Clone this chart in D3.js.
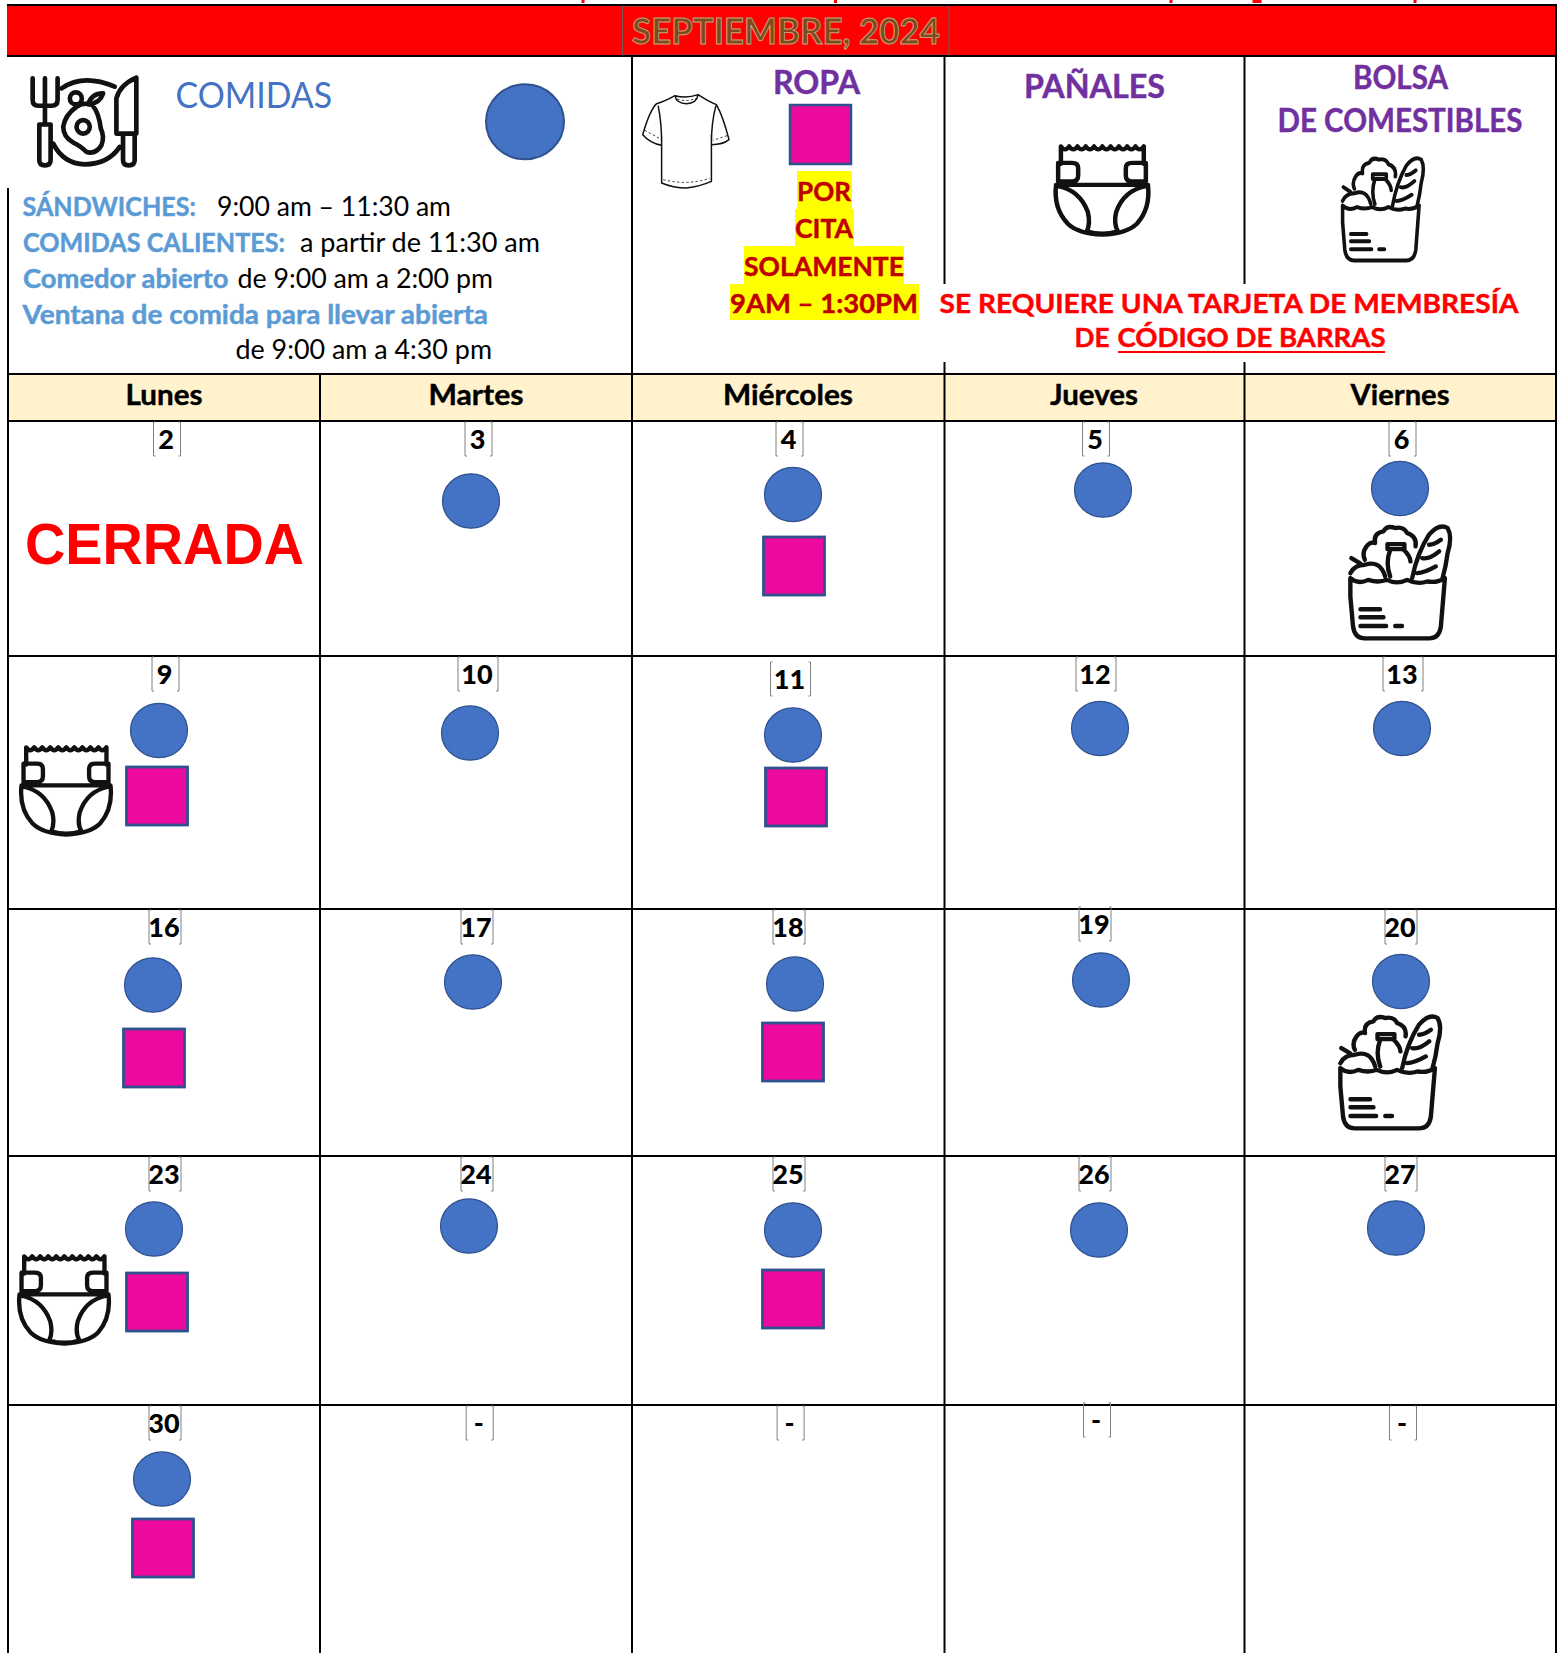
<!DOCTYPE html>
<html><head><meta charset="utf-8">
<style>html,body{margin:0;padding:0;background:#fff}svg{display:block}text{font-family:Lato,"Open Sans",sans-serif}</style>
<script src="https://cdnjs.cloudflare.com/ajax/libs/d3/7.8.5/d3.min.js"></script>
</head><body><div id="chart"></div>
<script>
// ---------- data ----------
const monthTitle = "SEPTIEMBRE, 2024";
const weekdays = ["Lunes","Martes","Miércoles","Jueves","Viernes"];
const dayLabels = ["2","3","4","5","6","9","10","11","12","13","16","17","18","19","20","23","24","25","26","27","30","-","-","-","-"];
const closedDays = ["2"];
const mealDays = ["3","4","5","6","9","10","11","12","13","16","17","18","19","20","23","24","25","26","27","30"];
const clothingDays = ["4","9","11","16","18","23","25","30"];
const diaperDays = ["9","23"];
const groceryDays = ["6","20"];

// ---------- layout ----------
const W = 1557, H = 1653;
const colEdges = [8,320,632,944,1244,1556];
const rowEdges = [421,656,909,1156,1405,1653];
const colX = d3.scaleLinear().domain(d3.range(6)).range(colEdges);
const rowY = d3.scaleLinear().domain(d3.range(6)).range(rowEdges);
const cell = i => ({col:i%5,row:Math.floor(i/5),cx:(colX(i%5)+colX(i%5+1))/2,top:rowY(Math.floor(i/5))});
const cellOf = label => cell(dayLabels.indexOf(label));

// hand-placement of each pasted shape relative to its cell (dx from cell centre, dy from cell top)
const mealNudge = {3:[-5,80],4:[5,73.5],5:[9,69],6:[0,67.5],9:[-5,74.5],10:[-6,77],11:[5,79],12:[6,72.5],13:[2,72.5],16:[-11,76],17:[-3,73],18:[7,75],19:[7,71],20:[1,72.5],23:[-10,73],24:[-7,70],25:[5,74],26:[5,74],27:[-4,72],30:[-2,74]};
const clothingNudge = {4:[6,145],9:[-7,140],11:[8,141],16:[-10,149],18:[5,143],23:[-7,146],25:[5,143],30:[-1,143]};
const diaperNudge = {9:[-98,89],23:[-100,98]};
const groceryNudge = {6:[0,103],20:[-10,105]};
const labelNudge = [[3,1],[2.5,1],[1.5,1],[2,1],[2.5,1],[1.5,1],[2,1],[2.5,6],[2,1],[3,1],[1,1],[1,1],[1,1],[1,-2],[1,1],[1,1],[1,1],[1,1],[1,1],[1,1],[1,1],[3.7,1],[2.6,1],[3,-2],[3,1]];

const BLUE="#4472C4", EDGE="#2F528F", PINK="#EC0B9E", SKY="#5B9BD5", PURPLE="#7030A0", DARKRED="#C00000";

const svg = d3.select("#chart").append("svg").attr("width",W).attr("height",H).attr("viewBox",`0 0 ${W} ${H}`);

// ---------- helpers ----------
function label(t,x,base,len,size,weight,fill,anchor){
  const s = svg.append("text").text(t).attr("x",x).attr("y",base)
    .attr("font-size",size).attr("font-weight",weight||400).attr("fill",fill||"#000")
    .attr("text-anchor",anchor||"start")
    .attr("textLength",len).attr("lengthAdjust","spacingAndGlyphs");
  if(weight===700) s.attr("stroke",fill||"#000").attr("stroke-width",.45);
  return s;
}
const icons = {
 plate:{sw:14,bx:[30,352,33,305],d:"M38 40V105Q38 122 55 122H95Q113 122 113 105V40M75 40V178M58 178H92V285Q92 300 75 300Q58 300 58 285ZM125 70Q190 25 285 65M100 235Q130 295 195 297Q265 297 300 245M350 38V205H290V100Q300 60 350 38ZM310 205V285Q310 300 327 300Q345 300 345 285V205M170 125Q135 150 130 185Q130 215 160 232Q180 240 200 260Q228 268 245 240Q255 215 243 190Q238 145 218 120Q190 110 170 125ZM210 185A20 20 0 1 1 170 185A20 20 0 1 1 210 185ZM186 100A18 18 0 1 1 150 100A18 18 0 1 1 186 100ZM205 118Q215 85 250 85Q240 115 205 118Z"},
 diaper:{sw:13,bx:[60,338,285,565],d:"M80 345V292q12 18 24 0q12 18 24 0q12 18 24 0q12 18 24 0q12 18 24 0q12 18 24 0q12 18 24 0q12 18 24 0q12 18 24 0q12 18 24 0V345M72 342H112Q130 342 130 358V380Q130 398 112 398H72ZM326 342H286Q268 342 268 358V380Q268 398 286 398H326ZM66 408H332M66 408Q58 480 100 525Q130 555 200 558Q270 555 300 525Q340 480 332 408M72 412Q135 425 158 490Q166 525 155 548Q200 562 245 548Q232 525 240 490Q262 425 326 412"},
 bag:{sw:13,bx:[148,450,343,690],d:"M152 505V560L160 650Q165 685 195 685H385Q415 685 420 650L432 505M152 505Q175 525 205 510Q235 520 260 510Q290 525 320 510Q350 525 380 515Q410 520 432 505M152 490Q165 465 195 465Q240 450 255 500M155 445L180 460M195 450Q185 430 200 410Q210 395 225 400Q220 370 250 365Q260 345 285 355Q310 350 320 370Q350 380 345 410M262 403H312V418H262ZM270 420Q255 460 270 500M310 420Q330 440 330 455M335 505Q350 430 385 375Q415 340 440 355Q455 380 440 430Q435 470 425 505M385 405Q400 405 420 390M365 445Q385 450 415 425M350 490Q370 490 405 470M182 598H240M182 622H250M182 648H258M285 648H305"},
 tee:{sw:4.5,bx:[38,298,40,325],d:"M135 48Q170 58 205 45M135 48Q140 72 170 72Q200 72 205 45M135 48Q105 65 80 72Q60 90 38 165Q60 190 95 197M205 45Q235 65 260 75Q280 110 298 180Q280 195 245 195M95 170V310Q130 325 170 325Q210 320 245 305V165M85 80Q95 130 95 190M258 80Q245 130 245 190"},
 teeDash:{sw:2.5,dash:"7 7",bx:[38,298,40,325],d:"M100 300Q170 318 240 296M44 152L92 178M292 168L250 182M142 58Q170 68 198 56"}
};
function icon(name,x0,x1,y0,y1){
  const ic=icons[name],[a,b,c,d]=ic.bx;
  const sx=(x1-x0)/(b-a),sy=(y1-y0)/(d-c);
  return svg.append("path").attr("class","icon-"+name).attr("d",ic.d)
    .attr("transform",`translate(${x0-a*sx},${y0-c*sy}) scale(${sx},${sy})`)
    .attr("fill","none").attr("stroke","#111").attr("stroke-width",ic.sw)
    .attr("stroke-dasharray",ic.dash||null)
    .attr("stroke-linecap",ic.dash?"butt":"round").attr("stroke-linejoin","round");
}

// ---------- banner ----------
svg.append("rect").attr("x",7).attr("y",5).attr("width",1549).attr("height",51).attr("fill","#f00");
[[583,3],[835.5,3],[1171,3],[1257,9],[1415,3]].forEach(([x,w])=>
  svg.append("rect").attr("x",x-w/2).attr("y",0).attr("width",w).attr("height",3).attr("fill","#f00"));
svg.append("rect").attr("x",622.5).attr("y",6).attr("width",326.5).attr("height",49).attr("fill","none").attr("stroke","#3f7f7f").attr("stroke-width",.7);
svg.append("text").text(monthTitle).attr("x",632).attr("y",44).attr("font-size",37).attr("font-weight",700)
  .attr("fill","#7F4A1E").attr("stroke","#C8A27C").attr("stroke-width",1)
  .attr("textLength",308).attr("lengthAdjust","spacingAndGlyphs");

// ---------- header fill ----------
svg.append("rect").attr("x",8).attr("y",374).attr("width",1548).attr("height",47).attr("fill","#FFF2CC");

// ---------- grid ----------
const gridLines = [
 [7,5,1557,5],[7,56,1557,56],[8,374,1556,374],
 ...rowEdges.slice(0,-1).map(y=>[8,y,1556,y]),
 [8,188,8,H],[1556,5,1556,H],[320,374,320,H],[632,56,632,H],
 [944.5,56,944.5,284],[944.5,362,944.5,H],[1244.5,56,1244.5,284],[1244.5,362,1244.5,H]
];
svg.append("g").selectAll("line").data(gridLines).join("line")
  .attr("x1",d=>d[0]).attr("y1",d=>d[1]).attr("x2",d=>d[2]).attr("y2",d=>d[3])
  .attr("stroke","#000").attr("stroke-width",2);

// ---------- legend panel ----------
icon("plate",30,137,76,167);
label("COMIDAS",175.5,108,156.5,36,400,BLUE);
svg.append("ellipse").attr("cx",525).attr("cy",121.7).attr("rx",39).attr("ry",37.5).attr("fill",BLUE).attr("stroke",EDGE).attr("stroke-width",2);
[["SÁNDWICHES:",22.5,215.7,173.5,700,SKY],["9:00 am – 11:30 am",217,215.7,234,400,"#000"],
 ["COMIDAS CALIENTES:",23,251.7,262,700,SKY],["a partir de 11:30 am",300,251.7,240,400,"#000"],
 ["Comedor abierto",23,287.7,205.5,700,SKY],["de 9:00 am a 2:00 pm",237.5,287.7,255.5,400,"#000"],
 ["Ventana de comida para llevar abierta",22.5,324,465.5,700,SKY],["de 9:00 am a 4:30 pm",235.5,359,256.5,400,"#000"]
].forEach(r=>label(r[0],r[1],r[2],r[3],26,r[4],r[5]));

icon("tee",642.7,729,93,188);
icon("teeDash",642.7,729,93,188);
label("ROPA",773,94,87,32,700,PURPLE);
svg.append("rect").attr("x",790).attr("y",105).attr("width",61).attr("height",59).attr("fill",PINK).attr("stroke",EDGE).attr("stroke-width",2.5);
[[797,852,171,209],[795,854,209,246],[744,904,246,284],[730,919,284,320]].forEach(r=>
  svg.append("rect").attr("x",r[0]).attr("y",r[2]).attr("width",r[1]-r[0]).attr("height",r[3]-r[2]).attr("fill","#ff0"));
[["POR",797,200.5,54],["CITA",795,237.5,58],["SOLAMENTE",744,275.5,160],["9AM – 1:30PM",730,313,188]].forEach(r=>
  label(r[0],r[1],r[2],r[3],26,700,DARKRED));

label("PAÑALES",1024,97.5,141,32,700,PURPLE);
icon("diaper",1054,1150,144,237);
label("BOLSA",1353,89,95,32,700,PURPLE);
label("DE COMESTIBLES",1277.5,132,245,32,700,PURPLE);
icon("bag",1341.5,1424,156,262);

label("SE REQUIERE UNA TARJETA DE MEMBRESÍA",939.5,312.7,579,27,700,"#f00");
label("DE",1074.5,347,35,27,700,"#f00");
label("CÓDIGO DE BARRAS",1117.5,347,268,27,700,"#f00");
svg.append("rect").attr("x",1118).attr("y",351).attr("width",267).attr("height",2).attr("fill","#f00");

// ---------- weekday header ----------
const weekdayWidths = [77,95,130,88,99];
svg.append("g").selectAll("text").data(weekdays).join("text")
  .text(d=>d)
  .attr("x",(d,i)=>(colX(i)+colX(i+1))/2).attr("y",405)
  .attr("text-anchor","middle").attr("font-size",28).attr("font-weight",700).attr("fill","#000")
  .attr("stroke","#000").attr("stroke-width",.4)
  .attr("textLength",(d,i)=>weekdayWidths[i]).attr("lengthAdjust","spacingAndGlyphs");

// ---------- day labels with text-box corners ----------
const dayG = svg.append("g").selectAll("g").data(dayLabels).join("g")
  .attr("transform",(d,i)=>{const c=cell(i),n=labelNudge[i];return `translate(${c.cx+n[0]},${c.top+n[1]})`;});
dayG.append("text").text(d=>d).attr("x",-1).attr("y",27)
  .attr("text-anchor","middle").attr("font-size",27).attr("font-weight",900).attr("fill","#000");
dayG.append("path").attr("fill","none").attr("stroke","#808080").attr("stroke-width",1)
  .attr("d",d=>{const w=d.length>1?(["10","11","12","13"].includes(d)?20:16):13.5,h=34;
    return `M${-w+2} 0H${-w}V${h}H${-w+2}M${w-2} 0H${w}V${h}H${w-2}`;});

// ---------- closed ----------
closedDays.forEach(d=>{
  svg.append("text").text("CERRADA").attr("x",25).attr("y",564)
   .attr("font-size",57).attr("font-weight",700).attr("fill","#f00")
   .style("font-family","'Liberation Sans',Arial,sans-serif")
   .attr("textLength",279).attr("lengthAdjust","spacingAndGlyphs");
});

// ---------- marks ----------
svg.append("g").selectAll("ellipse").data(mealDays).join("ellipse")
  .attr("cx",d=>cellOf(d).cx+mealNudge[d][0]).attr("cy",d=>cellOf(d).top+mealNudge[d][1])
  .attr("rx",28.5).attr("ry",27.2).attr("fill",BLUE).attr("stroke",EDGE).attr("stroke-width",1.2);
svg.append("g").selectAll("rect").data(clothingDays).join("rect")
  .attr("x",d=>cellOf(d).cx+clothingNudge[d][0]-30.5).attr("y",d=>cellOf(d).top+clothingNudge[d][1]-29)
  .attr("width",61).attr("height",58).attr("fill",PINK).attr("stroke",EDGE).attr("stroke-width",2.8);
diaperDays.forEach(d=>{const c=cellOf(d),n=diaperNudge[d],x=c.cx+n[0],y=c.top+n[1];icon("diaper",x-46.5,x+46.5,y,y+92);});
groceryDays.forEach(d=>{const c=cellOf(d),n=groceryNudge[d],x=c.cx+n[0],y=c.top+n[1];icon("bag",x-51,x+51,y,y+116);});
</script></body></html>
